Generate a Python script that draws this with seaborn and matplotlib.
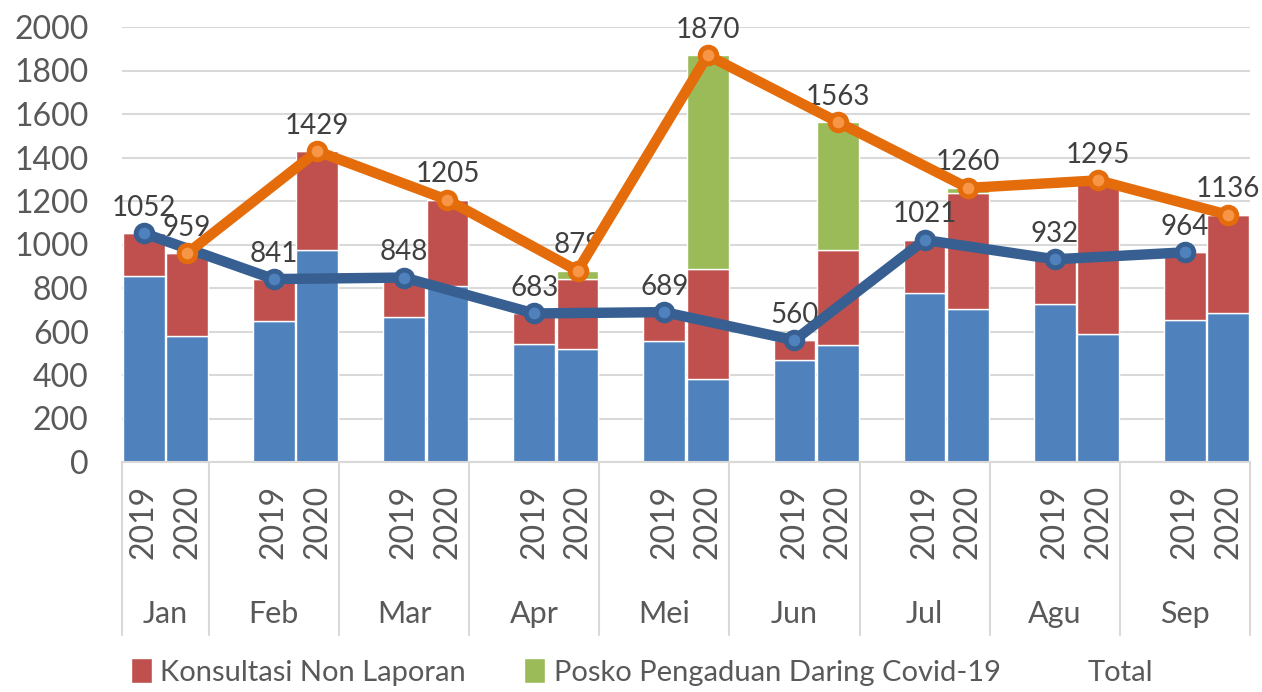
import matplotlib
matplotlib.use("Agg")
import matplotlib.pyplot as plt
import matplotlib.transforms as mtransforms
from matplotlib.patches import Patch
import numpy as np
import pandas as pd
import seaborn as sns

months = ["Jan", "Feb", "Mar", "Apr", "Mei", "Jun", "Jul", "Agu", "Sep"]
years = ["2019", "2020"]

laporan_2019 = [857, 647, 665, 541, 556, 467, 777, 725, 651]
konsultasi_2019 = [195, 194, 183, 142, 133, 93, 244, 207, 313]
posko_2019 = [0, 0, 0, 0, 0, 0, 0, 0, 0]
total_2019 = [1052, 841, 848, 683, 689, 560, 1021, 932, 964]

laporan_2020 = [581, 975, 809, 520, 382, 538, 703, 587, 684]
konsultasi_2020 = [378, 454, 396, 321, 507, 437, 535, 708, 452]
posko_2020 = [0, 0, 0, 38, 981, 588, 22, 0, 0]
total_2020 = [959, 1429, 1205, 879, 1870, 1563, 1260, 1295, 1136]

legend_labels = ["Konsultasi Non Laporan", "Posko Pengaduan Daring Covid-19", "Total"]

BLUE = "#4f81bd"
RED = "#c0504d"
GREEN = "#9bbb59"
LINE_BLUE = "#375f92"
ORANGE = "#e46c0a"
ORANGE_LIGHT = "#f79646"
GRID = "#d9d9d9"
TEXT = "#404040"

sns.set_theme(style="white")
plt.rcParams["font.family"] = ["Lato", "DejaVu Sans"]

# slot layout: Jan has 2 slots, every later month a blank slot + 2019 + 2020
pos_2019 = [3 * i for i in range(len(months))]
pos_2020 = [3 * i + 1 for i in range(len(months))]

df = pd.DataFrame({
    "pos": pos_2019 + pos_2020,
    "year": ["2019"] * 9 + ["2020"] * 9,
    "month": months * 2,
    "laporan": laporan_2019 + laporan_2020,
    "konsultasi": konsultasi_2019 + konsultasi_2020,
    "posko": posko_2019 + posko_2020,
    "total": total_2019 + total_2020,
})

fig = plt.figure(figsize=(12.62, 6.92), dpi=100)
ax = fig.add_axes([122 / 1262, 1 - 462 / 692, 1128 / 1262, 435 / 692])

w = 0.96
ax.bar(df["pos"], df["laporan"], width=w, color=BLUE, zorder=2)
ax.bar(df["pos"], df["konsultasi"], bottom=df["laporan"], width=w, color=RED, zorder=2)
ax.bar(df["pos"], df["posko"], bottom=df["laporan"] + df["konsultasi"], width=w,
       color=GREEN, zorder=2)

d19 = df[df["year"] == "2019"]
d20 = df[df["year"] == "2020"]
sns.lineplot(data=d19, x="pos", y="total", ax=ax, color=LINE_BLUE, linewidth=7.5,
             marker="o", markersize=12, markerfacecolor=BLUE,
             markeredgecolor=LINE_BLUE, markeredgewidth=3.5, zorder=4)
sns.lineplot(data=d20, x="pos", y="total", ax=ax, color=ORANGE, linewidth=7.5,
             marker="o", markersize=12, markerfacecolor=ORANGE_LIGHT,
             markeredgecolor=ORANGE, markeredgewidth=3.5, zorder=5)

for _, r in df.iterrows():
    ax.annotate(str(r["total"]), (r["pos"], r["total"]), xytext=(0, 9),
                textcoords="offset points", ha="center", va="bottom",
                fontsize=20, color=TEXT, zorder=3, annotation_clip=False)

ax.set_xlim(-0.5, 25.5)
ax.set_ylim(0, 2000)
ax.set_yticks(np.arange(0, 2001, 200))
ax.tick_params(axis="y", length=0, pad=24, labelsize=23, labelcolor="#595959")
ax.set_xticks([])
ax.set_xlabel("")
ax.set_ylabel("")
ax.grid(axis="y", color=GRID, linewidth=1.5, zorder=0)
ax.set_axisbelow(True)
for s in ax.spines.values():
    s.set_visible(False)

trans = mtransforms.blended_transform_factory(ax.transData, ax.transAxes)
# category separators
seps = [-0.5] + [3 * i + 1.5 for i in range(len(months) - 1)] + [25.5]
for x in seps:
    ax.plot([x, x], [0, -0.398], transform=trans, color=GRID, linewidth=1.5,
            clip_on=False)
ax.plot([-0.5, 25.5], [0, 0], transform=trans, color=GRID, linewidth=1.5,
        clip_on=False)

for _, r in df.iterrows():
    ax.text(r["pos"], -0.138, r["year"], transform=trans, rotation=90,
            ha="center", va="center", fontsize=23, color="#595959")

for i, m in enumerate(months):
    left, right = seps[i], seps[i + 1]
    ax.text((left + right) / 2, -0.35, m, transform=trans, ha="center",
            va="center", fontsize=22, color="#595959")

handles = [Patch(facecolor=RED), Patch(facecolor=GREEN),
           Patch(facecolor="none", edgecolor="none")]
fig.legend(handles, legend_labels, loc="center", bbox_to_anchor=(0.509, 0.029),
           ncol=3, frameon=False, fontsize=21, handlelength=0.7,
           handleheight=0.9, handletextpad=0.3, columnspacing=2.0,
           labelcolor="#595959")

fig.savefig("out.png", dpi=100)
